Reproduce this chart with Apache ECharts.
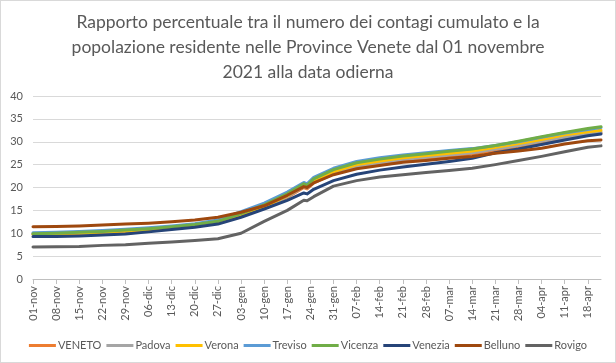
<!DOCTYPE html>
<html><head><meta charset="utf-8">
<script src="https://cdn.jsdelivr.net/npm/echarts@6/dist/echarts.min.js"></script>
<style>html,body{margin:0;padding:0;background:#fff}#c{width:614px;height:361px;border:1px solid #d9d9d9}</style>
</head><body><div id="c"></div>
<script>
// day index from 01-nov-2021 at which values were read
const sampleDays = [0,7,14,21,28,35,42,49,56,63,70,77,82,83,85,91,98,105,112,119,126,133,140,147,154,161,168,172];
const VENETO  = [9.8,9.9,10.0,10.2,10.4,10.7,11.1,11.6,12.3,13.8,15.5,17.8,20.0,19.7,21.0,23.0,24.4,25.2,25.8,26.3,26.8,27.3,28.1,28.9,29.8,30.7,31.5,31.9];
const Padova  = [9.9,10.0,10.1,10.3,10.5,10.8,11.2,11.7,12.4,13.9,15.6,18.0,20.2,19.9,21.2,23.2,24.6,25.4,26.1,26.6,27.1,27.6,28.4,29.2,30.1,31.0,31.8,32.1];
const Verona  = [9.8,9.9,10.0,10.2,10.5,10.8,11.2,11.7,12.4,14.0,15.8,18.2,20.5,20.2,21.5,23.5,25.0,25.8,26.5,27.0,27.5,28.0,28.8,29.6,30.5,31.5,32.2,32.5];
const Treviso = [10.1,10.2,10.4,10.6,10.9,11.2,11.6,12.1,12.9,14.7,16.6,19.0,21.1,20.8,22.2,24.2,25.7,26.5,27.1,27.6,28.1,28.5,29.2,30.0,31.0,31.9,32.7,33.1];
const Vicenza = [9.9,10.0,10.2,10.4,10.7,11.0,11.4,11.9,12.6,14.3,16.2,18.6,20.8,20.5,21.9,23.9,25.4,26.2,26.9,27.4,27.9,28.4,29.2,30.1,31.1,32.0,32.9,33.3];
const Venezia = [9.3,9.3,9.4,9.6,9.85,10.3,10.8,11.3,12.0,13.5,15.3,17.2,18.8,18.6,19.6,21.5,22.9,23.8,24.5,25.1,25.7,26.4,27.6,28.4,29.4,30.4,31.3,31.7];
const Belluno = [11.4,11.5,11.6,11.8,12.0,12.2,12.5,12.9,13.5,14.6,16.0,18.3,20.2,20.0,21.0,22.8,24.1,24.8,25.5,25.9,26.4,26.8,27.5,28.0,28.6,29.5,30.2,30.4];
const Rovigo  = [7.0,7.05,7.1,7.35,7.5,7.8,8.1,8.4,8.8,10.0,12.6,15.0,17.2,17.1,18.0,20.3,21.5,22.3,22.8,23.3,23.7,24.2,25.0,25.9,26.8,27.8,28.8,29.1];
const seriesNames = ['VENETO','Padova','Verona','Treviso','Vicenza','Venezia','Belluno','Rovigo'];
const seriesValues = [VENETO,Padova,Verona,Treviso,Vicenza,Venezia,Belluno,Rovigo];
const colors = ['#ED7D31','#A5A5A5','#FFC000','#5B9BD5','#70AD47','#264478','#9E480E','#636363'];
const monthNames = ['gen','feb','mar','apr','mag','giu','lug','ago','set','ott','nov','dic'];
const nDays = 173;

const categories = [];
for (let i = 0; i < nDays; i++) {
  const d = new Date(Date.UTC(2021, 10, 1 + i));
  categories.push(String(d.getUTCDate()).padStart(2,'0') + '-' + monthNames[d.getUTCMonth()]);
}

const chart = echarts.init(document.getElementById('c'));
chart.setOption({
  animation: false,
  color: colors,
  title: {
    text: 'Rapporto percentuale tra il numero dei contagi cumulato e la\npopolazione residente nelle Province Venete dal 01 novembre\n2021 alla data odierna',
    left: 'center', top: 4,
    textStyle: {fontFamily: 'Lato', fontSize: 17.5, fontWeight: 'normal', color: '#595959', lineHeight: 25}
  },
  legend: {
    top: 334, left: 'center',
    icon: 'rect', itemWidth: 27, itemHeight: 3, itemGap: 5,
    textStyle: {fontFamily: 'Lato', fontSize: 11, color: '#595959', padding: [0,0,0,-3]},
    data: seriesNames
  },
  grid: {left: 32, right: 14, top: 95, bottom: 83},
  xAxis: {
    type: 'category', data: categories, boundaryGap: false,
    axisLine: {lineStyle: {color: '#bfbfbf'}},
    axisTick: {interval: 6, length: 5, lineStyle: {color: '#bfbfbf'}},
    axisLabel: {interval: 6, rotate: 90, margin: 7, fontFamily: 'Lato', fontSize: 11, color: '#595959'},
    splitLine: {show: false}
  },
  yAxis: {
    type: 'value', min: 0, max: 40, interval: 5,
    axisLine: {show: false}, axisTick: {show: false},
    axisLabel: {margin: 10, fontFamily: 'Lato', fontSize: 11, color: '#595959'},
    splitLine: {lineStyle: {color: '#d9d9d9'}}
  },
  series: seriesNames.map((name, k) => ({
    name, type: 'line', showSymbol: false, symbol: 'none',
    lineStyle: {width: 3, color: colors[k], cap: 'round', join: 'round'},
    data: sampleDays.map((d, i) => [d, seriesValues[k][i]])
  }))
});
</script></body></html>
